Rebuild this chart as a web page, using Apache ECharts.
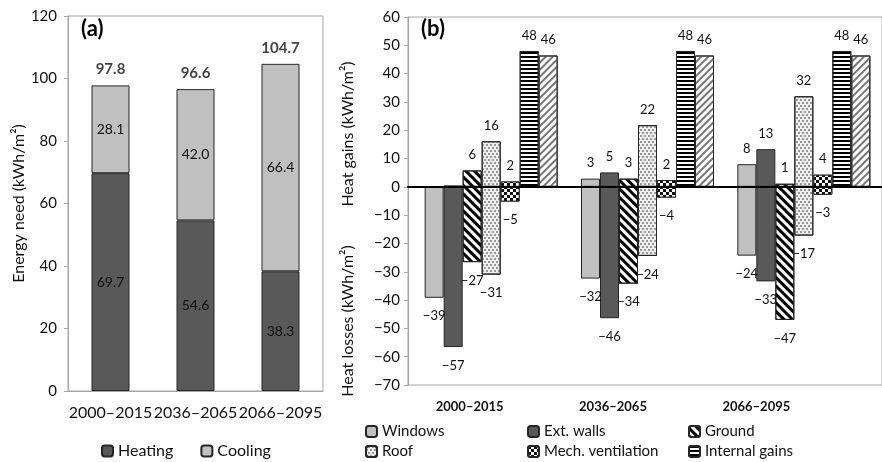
<!DOCTYPE html>
<html><head><meta charset="utf-8">
<script src="https://cdn.jsdelivr.net/npm/echarts@6/dist/echarts.min.js"></script>
<style>html,body{margin:0;padding:0;background:#fff}#c{width:882px;height:462px}</style>
</head><body><div id="c"></div>
<script>
// ---- data ----
const periods = ['2000–2015', '2036–2065', '2066–2095'];
const heating = [69.7, 54.6, 38.3];
const cooling = [28.1, 42.0, 66.4];
const totals = [97.8, 96.6, 104.7];

const windowsGains = [0, 2.9, 8.0];
const windowsLosses = [-39.2, -32.4, -24.3];
const extWallsGains = [0.5, 5.1, 13.3];
const extWallsLosses = [-56.6, -46.4, -33.4];
const groundGains = [5.8, 2.9, 1.1];
const groundLosses = [-26.6, -34.2, -47.0];
const roofGains = [16.1, 21.8, 32.0];
const roofLosses = [-31.0, -24.4, -17.2];
const mechGains = [1.9, 2.4, 4.3];
const mechLosses = [-5.2, -3.8, -2.8];
const internalGains = [48.0, 48.0, 48.0];
const solarGains = [46.4, 46.4, 46.4];

const ticksA = { min: 0, max: 120, interval: 20 };
const ticksB = { min: -70, max: 60, interval: 10 };

// ---- styles ----
const FONT = 'Lato';
const TXT = '#111';
const FRAME = '#a6a6a6';
const BORDER = '#262626';
const minus = v => (v < 0 ? '\u2212' + (-v) : String(v));
const labelFmt = p => {
  const v = p.value;
  if (Math.abs(v) < 0.75) return '';
  return minus(Math.round(v));
};

const styles = {
  'Windows': { color: '#c0c0c0', borderColor: BORDER, borderWidth: 1 },
  'Ext. walls': { color: '#595959', borderColor: BORDER, borderWidth: 1 },
  'Ground': { color: '#ffffff', borderColor: BORDER, borderWidth: 1,
    decal: { symbol: 'rect', color: '#000', dashArrayX: [1, 0], dashArrayY: [2.5, 2.5], rotation: Math.PI / 4 } },
  'Roof': { color: '#efefef', borderColor: BORDER, borderWidth: 1,
    decal: { symbol: 'circle', color: '#7a7a7a', symbolSize: 1, dashArrayX: [[1.5, 1.5], [0, 1.5, 1.5, 0]], dashArrayY: [1.5, 0.5] } },
  'Mech. ventilation': { color: '#111', borderColor: BORDER, borderWidth: 1,
    decal: { symbol: 'rect', color: '#fff', dashArrayX: [[3, 3], [0, 3, 3, 0]], dashArrayY: [3, 0] } },
  'Internal gains': { color: '#ffffff', borderColor: BORDER, borderWidth: 1,
    decal: { symbol: 'rect', color: '#000', dashArrayX: [1, 0], dashArrayY: [2, 1.5], rotation: 0 } },
  'Solar gains': { color: '#ffffff', borderColor: BORDER, borderWidth: 1,
    decal: { symbol: 'rect', color: '#777', dashArrayX: [1, 0], dashArrayY: [1.5, 3], rotation: -Math.PI / 4 } }
};

function bSeries(name, stack, data, isLoss) {
  return {
    type: 'bar', name: name, stack: stack, xAxisIndex: 3, yAxisIndex: 3,
    data: data, barWidth: 19, barGap: '0%',
    itemStyle: styles[name],
    label: {
      show: true, position: isLoss ? 'bottom' : 'top', distance: isLoss ? 12 : 9,
      formatter: labelFmt, fontSize: 13, color: TXT, fontFamily: FONT
    },
    emphasis: { disabled: true }
  };
}

const seriesB = [
  bSeries('Windows', 'win', windowsGains, false),
  bSeries('Windows', 'win', windowsLosses, true),
  bSeries('Ext. walls', 'ext', extWallsGains, false),
  bSeries('Ext. walls', 'ext', extWallsLosses, true),
  bSeries('Ground', 'gr', groundGains, false),
  bSeries('Ground', 'gr', groundLosses, true),
  bSeries('Roof', 'roof', roofGains, false),
  bSeries('Roof', 'roof', roofLosses, true),
  bSeries('Mech. ventilation', 'mech', mechGains, false),
  bSeries('Mech. ventilation', 'mech', mechLosses, true),
  bSeries('Internal gains', 'int', internalGains, false),
  bSeries('Solar gains', 'sol', solarGains, false)
];

const legendCommon = {
  orient: 'vertical', itemWidth: 11, itemHeight: 11, itemGap: 5, height: 60, padding: 0,
  textStyle: { fontSize: 15, color: TXT, fontFamily: FONT }, selectedMode: false
};

const option = {
  animation: false,
  textStyle: { fontFamily: FONT },
  title: [
    { text: '(a)', left: 76, top: 13, textStyle: { fontSize: 22, fontWeight: 'bold', color: '#000', fontFamily: FONT } },
    { text: '(b)', left: 416, top: 13, textStyle: { fontSize: 22, fontWeight: 'bold', color: '#000', fontFamily: FONT } }
  ],
  grid: [
    { left: 68, top: 16, width: 255, height: 375, show: true, borderColor: FRAME, borderWidth: 1 },
    { left: 408, top: 17, width: 483, height: 368, show: true, borderColor: FRAME, borderWidth: 1 },
    { left: 398, top: 380, width: 430, height: 5 },
    { left: 413, top: 17, width: 478, height: 368 }
  ],
  xAxis: [
    { type: 'category', gridIndex: 0, data: periods, axisTick: { show: false },
      axisLine: { lineStyle: { color: FRAME } },
      axisLabel: { fontSize: 16, color: TXT, margin: 14, interval: 0 } },
    { type: 'category', gridIndex: 1, data: periods, axisTick: { show: false },
      axisLabel: { show: false },
      axisLine: { onZero: true, lineStyle: { color: '#000', width: 2 } }, z: 10 },
    { type: 'category', gridIndex: 2, data: periods, axisTick: { show: false },
      axisLine: { show: false },
      axisLabel: { fontSize: 13, fontWeight: 'bold', color: TXT, margin: 15, interval: 0 } },
    { type: 'category', gridIndex: 3, data: periods, show: false }
  ],
  yAxis: [
    { type: 'value', gridIndex: 0, min: ticksA.min, max: ticksA.max, interval: ticksA.interval,
      axisLine: { show: true, lineStyle: { color: FRAME } },
      axisTick: { show: true, length: 4, lineStyle: { color: FRAME } },
      splitLine: { show: false },
      axisLabel: { fontSize: 15, color: TXT, margin: 11 },
      name: 'Energy need (kWh/m²)', nameLocation: 'middle', nameGap: 40,
      nameTextStyle: { fontSize: 16, color: TXT, fontFamily: FONT } },
    { type: 'value', gridIndex: 1, min: ticksB.min, max: ticksB.max, interval: ticksB.interval,
      axisLine: { show: true, lineStyle: { color: FRAME } },
      axisTick: { show: true, length: 4, lineStyle: { color: FRAME } },
      splitLine: { show: false },
      axisLabel: { fontSize: 15, color: TXT, margin: 8, formatter: v => minus(v) } },
    { type: 'value', gridIndex: 2, show: false },
    { type: 'value', gridIndex: 3, min: ticksB.min, max: ticksB.max, interval: ticksB.interval, show: false }
  ],
  legend: [
    Object.assign({}, legendCommon, { orient: 'horizontal', data: ['Heating', 'Cooling'], left: 101, top: 443, itemGap: 27, height: 'auto',
      textStyle: { fontSize: 16, color: TXT, fontFamily: FONT } }),
    Object.assign({}, legendCommon, { data: ['Windows', 'Roof'], left: 365, top: 424 }),
    Object.assign({}, legendCommon, { data: ['Ext. walls', 'Mech. ventilation'], left: 527, top: 424 }),
    Object.assign({}, legendCommon, { data: ['Ground', 'Internal gains'], left: 688, top: 424 })
  ],
  graphic: [
    { type: 'text', x: 348, y: 134, rotation: Math.PI / 2,
      style: { text: 'Heat gains (kWh/m²)', font: '16px Lato', fill: TXT, textAlign: 'center', textVerticalAlign: 'middle', align: 'center', verticalAlign: 'middle' } },
    { type: 'text', x: 348, y: 321, rotation: Math.PI / 2,
      style: { text: 'Heat losses (kWh/m²)', font: '16px Lato', fill: TXT, textAlign: 'center', textVerticalAlign: 'middle', align: 'center', verticalAlign: 'middle' } }
  ],
  series: [
    { type: 'bar', name: 'Heating', stack: 'a', xAxisIndex: 0, yAxisIndex: 0, data: heating, barWidth: 38,
      itemStyle: { color: '#595959', borderColor: BORDER, borderWidth: 1 },
      label: { show: true, position: 'inside', fontSize: 14, color: TXT, formatter: p => p.value.toFixed(1) } },
    { type: 'bar', name: 'Cooling', stack: 'a', xAxisIndex: 0, yAxisIndex: 0, data: cooling, barWidth: 38,
      itemStyle: { color: '#c0c0c0', borderColor: BORDER, borderWidth: 1 },
      label: { show: true, position: 'inside', fontSize: 14, color: TXT, formatter: p => p.value.toFixed(1) } },
    { type: 'scatter', name: 'Total', xAxisIndex: 0, yAxisIndex: 0, data: totals, symbolSize: 1,
      itemStyle: { color: 'rgba(0,0,0,0)' },
      label: { show: true, position: 'top', distance: 8, fontSize: 15, fontWeight: 'bold', color: TXT, formatter: p => p.value.toFixed(1) } }
  ].concat(seriesB)
};

const chart = echarts.init(document.getElementById('c'), null, { renderer: 'canvas' });
chart.setOption(option);
</script>
</body></html>
